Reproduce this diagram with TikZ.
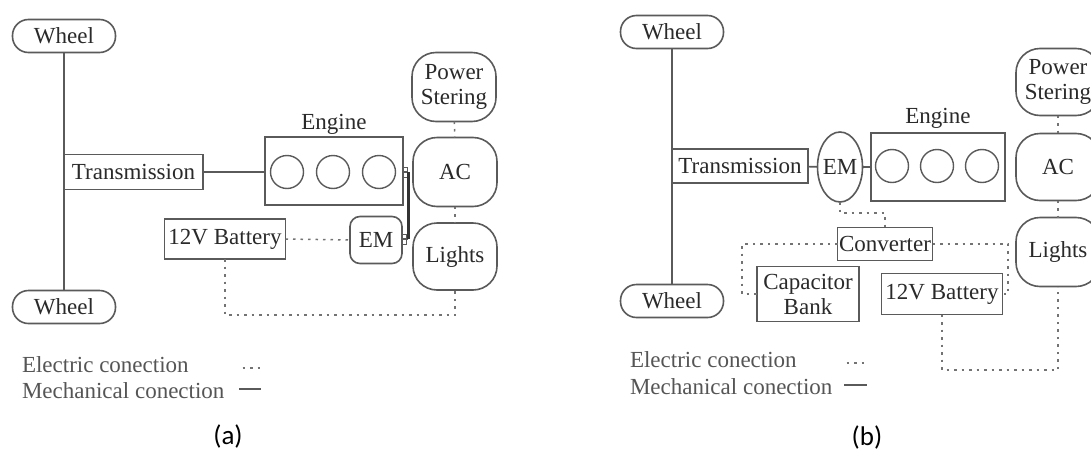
\documentclass[tikz,border=0pt]{standalone}
\usepackage{fontspec}
\setmainfont{Liberation Serif}
\newfontfamily\capfont{Carlito}
\usetikzlibrary{shapes.geometric}
\definecolor{ln}{HTML}{5A5A5A}
\definecolor{tx}{HTML}{2A2A2A}
\begin{document}
\begin{tikzpicture}[x=1pt,y=-1pt,
 every node/.style={font=\fontsize{23}{25}\selectfont, text=tx, inner sep=0pt, outer sep=0pt},
 box/.style={draw=ln, line width=1.6pt, rectangle, align=center},
 pill/.style={box, rounded corners=16pt, minimum width=103pt, minimum height=33pt},
 load/.style={box, rounded corners=24pt, minimum width=84pt, minimum height=69pt},
 cyl/.style={draw=ln, line width=1.4pt, circle, minimum size=33pt},
 mech/.style={draw=ln, line width=1.6pt},
 belt/.style={draw=black!80, line width=3pt},
 elec/.style={draw=ln!85, line width=1.5pt, dash pattern=on 2.5pt off 5pt},
 legend/.style={anchor=west, text=tx!80},
 capt/.style={font=\capfont\fontsize{27}{30}\selectfont, text=black}
]
\useasboundingbox[fill=white] (0,0) rectangle (1091,450);
\clip (0,0) rectangle (1091,450);

% ---------------- panel (a) ----------------
\node[pill] (wta) at (64,36) {Wheel};
\node[pill] (wba) at (64,307) {Wheel};
\node[box, minimum width=139pt, minimum height=35pt] (tra) at (133.5,172) {Transmission};
\node[box, minimum width=138pt, minimum height=68pt] (enga) at (334,171) {};
\node (enlaba) at (334,124) {Engine};
\node[cyl] (c1a) at (287,172) {};
\node[cyl] (c2a) at (333,172) {};
\node[cyl] (c3a) at (379,172) {};
\node[load] (psa) at (454,87) {Power\\Stering};
\node[load] (aca) at (455,172) {AC};
\node[load, minimum height=67pt] (lia) at (455,256.5) {Lights};
\node[box, rounded corners=10pt, minimum width=52pt, minimum height=47pt] (ema) at (376,240) {EM};
\node[box, minimum width=121pt, minimum height=40pt] (bata) at (225,239) {12V Battery};

\draw[mech] (wta) -- (wba);
\draw[mech] (tra.east) -- (tra.east -| enga.west);
\coordinate (bta) at (408,172);
\coordinate (bba) at (408,239);
\draw[mech] (enga.east |- bta) -- (bta);
\draw[mech] (bba) -- (ema.east |- bba);
\draw[ln, line width=1pt] (403,167) rectangle (407,177);
\draw[ln, line width=1pt] (402,234) rectangle (406,244);
\draw[belt] (bta) -- (bba);
\draw[elec] (bata.east) -- (ema.west);
\coordinate (ja) at (225,315);
\draw[elec] (bata.south) -- (ja) -| (lia.south);
\draw[elec] (psa) -- (aca);
\draw[elec] (aca) -- (lia);

\node[legend] (l1a) at (22,365) {Electric conection};
\node[legend] (l2a) at (22,391) {Mechanical conection};
\draw[elec] ([xshift=54pt,yshift=-3pt]l1a.east) -- ([xshift=76pt,yshift=-3pt]l1a.east);
\draw[mech] ([xshift=15pt,yshift=2pt]l2a.east) -- ([xshift=37pt,yshift=2pt]l2a.east);
\node[capt] (capa) at (228,436) {(a)};

% ---------------- panel (b) ----------------
\node[pill] (wtb) at (672,32) {Wheel};
\node[pill] (wbb) at (672,301) {Wheel};
\node[box, minimum width=136pt, minimum height=34pt] (trb) at (740,166) {Transmission};
\node[draw=ln, line width=1.6pt, ellipse, minimum width=45pt, minimum height=70pt, label={center:EM}] (emb) at (840,167) {};
\node[box, minimum width=134pt, minimum height=68pt] (engb) at (938,167) {};
\node (enlabb) at (938,118) {Engine};
\node[cyl] (c1b) at (892,166) {};
\node[cyl] (c2b) at (937,166) {};
\node[cyl] (c3b) at (982,166) {};
\node[load, minimum height=67pt] (psb) at (1058,82) {Power\\Stering};
\node[load, minimum height=67pt] (acb) at (1058,167) {AC};
\node[load] (lib) at (1058,252) {Lights};
\node[box, minimum width=95pt, minimum height=33pt] (conv) at (885,244) {Converter};
\node[box, minimum width=102pt, minimum height=55pt] (capb) at (808,294) {Capacitor\\Bank};
\node[box, minimum width=121pt, minimum height=41pt] (batb) at (942,294) {12V Battery};

\draw[mech] (wtb) -- (wbb);
\draw[mech] (trb) -- (emb);
\draw[mech] (emb) -- (engb);
\coordinate (k1) at (885,213);
\draw[elec] (emb.south) |- (k1) -- (conv.north);
\coordinate (k2) at (742,244);
\draw[elec] (conv.west) -- (k2) |- (capb.west);
\coordinate (k3) at (1008,244);
\draw[elec] (conv.east) -- (k3) |- (batb.east);
\coordinate (k4) at (942,370);
\draw[elec] (batb.south) -- (k4) -| (lib.south);
\draw[elec] (psb) -- (acb);
\draw[elec] (acb) -- (lib);

\node[legend] (l1b) at (630,360) {Electric conection};
\node[legend] (l2b) at (630,387) {Mechanical conection};
\draw[elec] ([xshift=50pt,yshift=-3pt]l1b.east) -- ([xshift=72pt,yshift=-3pt]l1b.east);
\draw[mech] ([xshift=12pt,yshift=2pt]l2b.east) -- ([xshift=35pt,yshift=2pt]l2b.east);
\node[capt] (capb2) at (867,437) {(b)};
\end{tikzpicture}
\end{document}
